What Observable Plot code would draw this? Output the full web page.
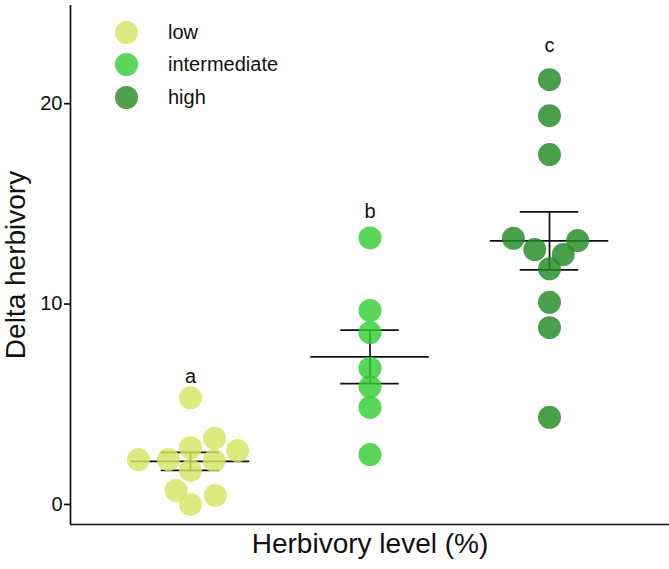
<!DOCTYPE html>
<html>
<head>
<meta charset="utf-8">
<script src="https://cdn.jsdelivr.net/npm/d3@7"></script>
<script src="https://cdn.jsdelivr.net/npm/@observablehq/plot@0.6"></script>
<style>
  body { margin: 0; background: #fff; }
  #chart { position: relative; width: 669px; height: 569px; font-family: "Liberation Sans", Arial, Helvetica, sans-serif; }
  #legend { position: absolute; left: 115px; top: 16px; }
  .key { display: flex; align-items: center; height: 32.5px; font-size: 20px; color: #111; }
  .key span.sw { width: 23px; height: 23px; border-radius: 50%; margin-right: 30px; opacity: 0.8; }
</style>
</head>
<body>
<div id="chart"><div id="legend"></div></div>
<script>
// Herbivory levels and the delta herbivory measured in each
const levels = ["low", "intermediate", "high"];
const lowValues = [0.0, 0.45, 0.70, 1.70, 2.19, 2.24, 2.24, 2.69, 2.83, 3.31, 5.32];
const intermediateValues = [2.49, 4.84, 5.87, 6.80, 8.58, 9.68, 13.30];
const highValues = [4.35, 8.82, 10.09, 11.76, 12.47, 12.72, 13.17, 13.28, 17.46, 19.40, 21.20];

// Post-hoc group letters and where they sit on the y axis
const letters = ["a", "b", "c"];
const letterY = [6.4, 14.6, 22.9];

const yTicks = [0, 10, 20];
const colors = ["#d6e560", "#32cd32", "#228b22"];

// Layout
const width = 669, height = 569;
const marginLeft = 70, marginRight = 0, marginTop = 5, marginBottom = 45;
const yDomain = [-1, 24.9];
const xDomain = [0.3315, 3.6685];
const dotR = 11.5;
const pxPerUnit = (width - marginLeft - marginRight) / (xDomain[1] - xDomain[0]);
const yPx = d3.scaleLinear(yDomain, [height - marginBottom, marginTop]);

// Beeswarm offsets (pixels). Points are placed in ascending order of value,
// each as close to the group centre as possible; two points clash when they
// fall inside an ellipse that is wider (sx) than it is tall (sy).
function swarmOffsets(values, sx, sy) {
  const py = values.map(yPx);
  const order = d3.range(values.length).sort((i, j) => values[i] - values[j]);
  const off = new Array(values.length).fill(0);
  const placed = [];
  const clash = (x, i, j) => ((x - off[j]) / sx) ** 2 + ((py[i] - py[j]) / sy) ** 2 < 1 - 1e-6;
  for (const i of order) {
    const cands = [0];
    for (const j of placed) {
      const t = (py[i] - py[j]) / sy;
      if (Math.abs(t) < 1) {
        const h = sx * Math.sqrt(1 - t * t);
        cands.push(off[j] + h, off[j] - h);
      }
    }
    const sorted = cands.map((c, k) => [c, k])
      .sort((a, b) => Math.abs(a[0]) - Math.abs(b[0]) || a[1] - b[1]);
    for (const [c] of sorted) {
      if (!placed.some(j => clash(c, i, j))) { off[i] = c; break; }
    }
    placed.push(i);
  }
  return off;
}

const groups = [lowValues, intermediateValues, highValues];
const points = groups.flatMap((vals, gi) => {
  const off = swarmOffsets(vals, 30, 16);
  return vals.map((v, k) => ({level: levels[gi], value: v, x: gi + 1 + off[k] / pxPerUnit}));
});

// Mean ± standard error per group
const stats = groups.map((vals, gi) => {
  const mean = d3.mean(vals);
  const se = d3.deviation(vals) / Math.sqrt(vals.length);
  return {g: gi + 1, mean, lo: mean - se, hi: mean + se};
});

const meanHalf = 0.33, capHalf = 0.163;
const lineW = 1.7;

const chart = Plot.plot({
  width, height, marginLeft, marginRight, marginTop, marginBottom,
  style: {fontFamily: "Liberation Sans, Arial, Helvetica, sans-serif", fontSize: "20px", color: "#111", background: "#fff"},
  x: {type: "linear", domain: xDomain, axis: null},
  y: {domain: yDomain},
  color: {domain: levels, range: colors},
  marks: [
    Plot.axisY(yTicks, {tickSize: 6, tickPadding: 2, strokeWidth: lineW, fontSize: 20, label: null}),
    Plot.ruleX([xDomain[0]], {strokeWidth: lineW}),
    Plot.ruleY([yDomain[0]], {strokeWidth: lineW}),
    // mean line, error bar and caps
    Plot.ruleY(stats, {y: "mean", x1: d => d.g - meanHalf, x2: d => d.g + meanHalf, strokeWidth: lineW}),
    Plot.ruleX(stats, {x: "g", y1: "lo", y2: "hi", strokeWidth: lineW}),
    Plot.ruleY(stats, {y: "hi", x1: d => d.g - capHalf, x2: d => d.g + capHalf, strokeWidth: lineW}),
    Plot.ruleY(stats, {y: "lo", x1: d => d.g - capHalf, x2: d => d.g + capHalf, strokeWidth: lineW}),
    // observations
    Plot.dot(points, {x: "x", y: "value", fill: "level", r: dotR, fillOpacity: 0.82}),
    // group letters
    Plot.text(letters, {x: (d, i) => i + 1, y: (d, i) => letterY[i], text: d => d, fontSize: 20}),
    // axis titles
    Plot.text(["Delta herbivory"], {frameAnchor: "left", textAnchor: "middle", rotate: -90, dx: -54, fontSize: 28}),
    Plot.text(["Herbivory level (%)"], {frameAnchor: "bottom", textAnchor: "middle", dy: 28, fontSize: 28})
  ]
});

const root = document.getElementById("chart");
root.insertBefore(chart, root.firstChild);

const legend = d3.select("#legend");
levels.forEach((lv, i) => {
  const row = legend.append("div").attr("class", "key");
  row.append("span").attr("class", "sw").style("background", colors[i]);
  row.append("span").text(lv);
});
</script>
</body>
</html>
